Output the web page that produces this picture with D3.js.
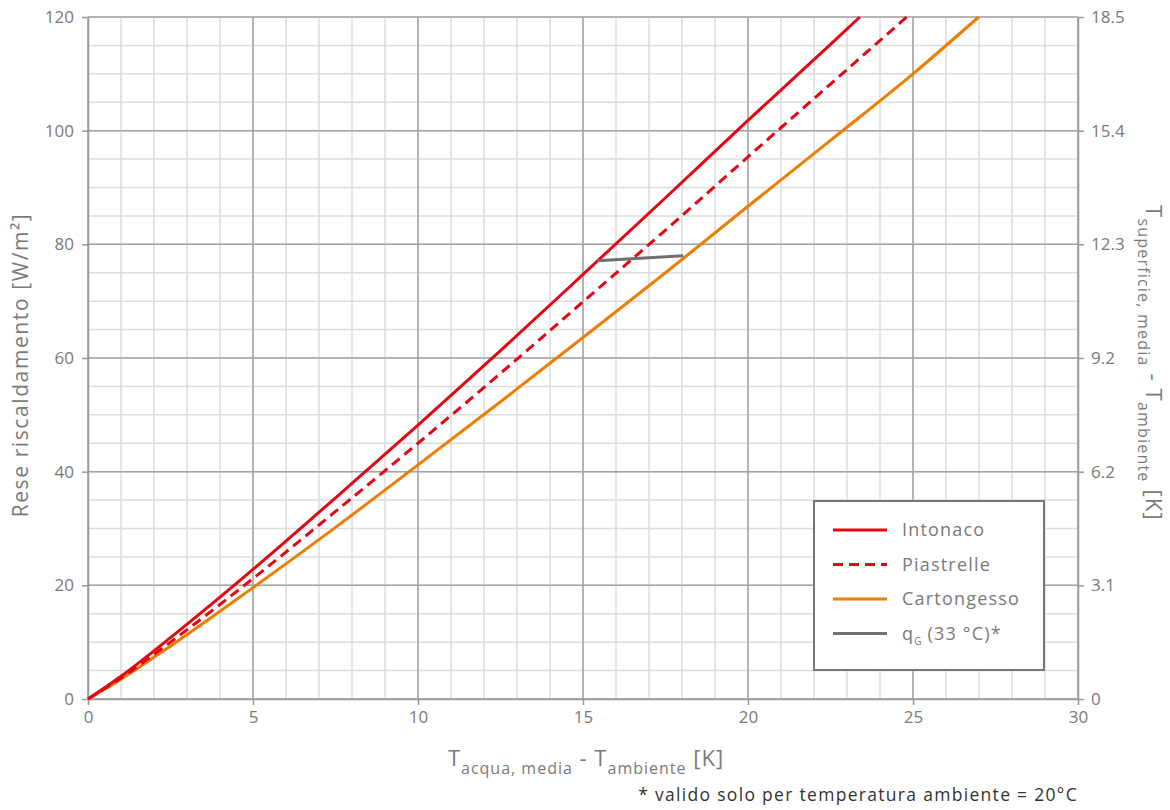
<!DOCTYPE html>
<html>
<head>
<meta charset="utf-8">
<script src="https://cdn.jsdelivr.net/npm/d3@7"></script>
<style>
  html, body { margin: 0; padding: 0; background: #fff; }
  svg { display: block; font-family: "Open Sans", "DejaVu Sans", sans-serif; }
</style>
</head>
<body>
<svg id="chart" width="1170" height="810"></svg>
<script>
// ---- data ----
const xTicks = [0, 5, 10, 15, 20, 25, 30];
const yTicks = [0, 20, 40, 60, 80, 100, 120];
const yRightLabels = ["0", "3.1", "6.2", "9.2", "12.3", "15.4", "18.5"];

const intonacoX = [0, 1, 2.5, 5, 7.5, 10, 12.5, 15, 17.5, 20, 22.5, 23.39];
const intonacoY = [0, 4.0, 10.8, 22.8, 35.4, 48.2, 61.3, 74.7, 88.2, 101.8, 115.2, 120];

const piastrelleX = [0, 1, 2.5, 5, 7.5, 10, 12.5, 15, 17.5, 20, 22.5, 24.81];
const piastrelleY = [0, 3.7, 10.0, 21.2, 33.0, 45.0, 57.3, 69.9, 82.5, 95.4, 108.2, 120];

const cartongessoX = [0, 1, 2.5, 5, 7.5, 10, 12.5, 15, 17.5, 20, 22.5, 25, 26.99];
const cartongessoY = [0, 3.5, 9.3, 19.6, 30.2, 41.2, 52.3, 63.6, 75.0, 86.7, 98.3, 110.0, 120];

const qgX = [15.43, 18.04];
const qgY = [77.1, 78.0];

const seriesNames = ["Intonaco", "Piastrelle", "Cartongesso", "qG"];

// ---- layout ----
const svg = d3.select("#chart");
const mL = 88, mR = 1078, mT = 17, mB = 699;
const x = d3.scaleLinear().domain([0, 30]).range([mL, mR]);
const y = d3.scaleLinear().domain([0, 120]).range([mB, mT]);

const textColor = "#7a7a7a";
const fontSize = 17;

// minor grid
const g = svg.append("g");
g.selectAll(".vminor").data(d3.range(0, 31, 1)).join("line")
  .attr("x1", d => x(d)).attr("x2", d => x(d))
  .attr("y1", mT).attr("y2", mB)
  .attr("stroke", "#dcdcdc").attr("stroke-width", 1.5);
g.selectAll(".hminor").data(d3.range(0, 121, 5)).join("line")
  .attr("x1", mL).attr("x2", mR)
  .attr("y1", d => y(d)).attr("y2", d => y(d))
  .attr("stroke", "#dcdcdc").attr("stroke-width", 1.5);
// major grid
g.selectAll(".vmajor").data(xTicks).join("line")
  .attr("x1", d => x(d)).attr("x2", d => x(d))
  .attr("y1", mT).attr("y2", mB)
  .attr("stroke", "#a3a3a3").attr("stroke-width", 1.5);
g.selectAll(".hmajor").data(yTicks).join("line")
  .attr("x1", mL).attr("x2", mR)
  .attr("y1", d => y(d)).attr("y2", d => y(d))
  .attr("stroke", "#a3a3a3").attr("stroke-width", 1.5);

// axes
function styleAxis(sel) {
  sel.select(".domain").attr("stroke", "#999").attr("stroke-width", 1.5);
  sel.selectAll(".tick line").attr("stroke", "#999").attr("stroke-width", 1.5);
  sel.selectAll(".tick text").attr("fill", textColor)
    .style("font-size", fontSize + "px").style("font-family", "'Open Sans', sans-serif");
}
svg.append("g").attr("transform", `translate(0,${mB})`)
  .call(d3.axisBottom(x).tickValues(xTicks).tickSize(6).tickPadding(6).tickSizeOuter(0))
  .call(styleAxis);
svg.append("g").attr("transform", `translate(${mL},0)`)
  .call(d3.axisLeft(y).tickValues(yTicks).tickSize(6).tickPadding(8).tickSizeOuter(0))
  .call(styleAxis);
svg.append("g").attr("transform", `translate(${mR},0)`)
  .call(d3.axisRight(y).tickValues(yTicks).tickSize(6).tickPadding(7).tickSizeOuter(0)
    .tickFormat((d, i) => yRightLabels[i]))
  .call(styleAxis);

// series
const line = d3.line().x(d => x(d[0])).y(d => y(d[1])).curve(d3.curveMonotoneX);
const zip = (xs, ys) => xs.map((v, i) => [v, ys[i]]);
const red = "#e30613", orange = "#ef7d00", grey = "#6f6f6f";

svg.append("path").datum(zip(cartongessoX, cartongessoY)).attr("d", line)
  .attr("fill", "none").attr("stroke", orange).attr("stroke-width", 3);
svg.append("path").datum(zip(piastrelleX, piastrelleY)).attr("d", line)
  .attr("fill", "none").attr("stroke", red).attr("stroke-width", 3)
  .attr("stroke-dasharray", "10,6");
svg.append("path").datum(zip(intonacoX, intonacoY)).attr("d", line)
  .attr("fill", "none").attr("stroke", red).attr("stroke-width", 3);
svg.append("path").datum(zip(qgX, qgY)).attr("d", d3.line().x(d => x(d[0])).y(d => y(d[1])))
  .attr("fill", "none").attr("stroke", grey).attr("stroke-width", 3);

// legend
const lg = svg.append("g");
lg.append("rect").attr("x", 814).attr("y", 501).attr("width", 230).attr("height", 169)
  .attr("fill", "#fff").attr("stroke", "#777").attr("stroke-width", 2);
const legendItems = [
  { name: seriesNames[0], color: red, dash: null },
  { name: seriesNames[1], color: red, dash: "10,6" },
  { name: seriesNames[2], color: orange, dash: null },
  { name: seriesNames[3], color: grey, dash: null }
];
legendItems.forEach((it, i) => {
  const yy = 530 + i * 34.5;
  lg.append("line").attr("x1", 833).attr("x2", 887).attr("y1", yy).attr("y2", yy)
    .attr("stroke", it.color).attr("stroke-width", 3)
    .attr("stroke-dasharray", it.dash);
  const t = lg.append("text").attr("x", 902).attr("y", yy + 6)
    .attr("fill", textColor).style("font-size", "18px").style("letter-spacing", "1.2px");
  if (i === 3) {
    t.append("tspan").text("q");
    t.append("tspan").attr("dy", 5).style("font-size", "10px").style("letter-spacing", "0px").text("G");
    t.append("tspan").attr("dy", -5).text(" (33 °C)*");
  } else {
    t.text(it.name);
  }
});

// y-axis title (left)
svg.append("text")
  .attr("transform", `translate(28,${365}) rotate(-90)`)
  .attr("text-anchor", "middle")
  .attr("fill", textColor).style("font-size", "21px").style("letter-spacing", "1.6px")
  .text("Rese riscaldamento [W/m²]");

// right axis title
const rt = svg.append("text")
  .attr("transform", `translate(1146,${363}) rotate(90)`)
  .attr("text-anchor", "middle")
  .attr("fill", textColor).style("font-size", "22px").style("letter-spacing", "1.2px");
rt.append("tspan").text("T");
rt.append("tspan").attr("dy", 8).style("font-size", "16px").text("superficie, media");
rt.append("tspan").attr("dy", -8).text(" - T");
rt.append("tspan").attr("dy", 8).style("font-size", "16px").text("ambiente");
rt.append("tspan").attr("dy", -8).text(" [K]");

// x-axis title
const xt = svg.append("text")
  .attr("x", 586).attr("y", 766)
  .attr("text-anchor", "middle")
  .attr("fill", textColor).style("font-size", "22px").style("letter-spacing", "1px");
xt.append("tspan").text("T");
xt.append("tspan").attr("dy", 8).style("font-size", "16px").text("acqua, media");
xt.append("tspan").attr("dy", -8).text(" - T");
xt.append("tspan").attr("dy", 8).style("font-size", "16px").text("ambiente");
xt.append("tspan").attr("dy", -8).text(" [K]");

// footnote
svg.append("text")
  .attr("x", 1078).attr("y", 801)
  .attr("text-anchor", "end")
  .attr("fill", "#333").style("font-size", "17.5px").style("letter-spacing", "1.3px")
  .text("* valido solo per temperatura ambiente = 20°C");
</script>
</body>
</html>
